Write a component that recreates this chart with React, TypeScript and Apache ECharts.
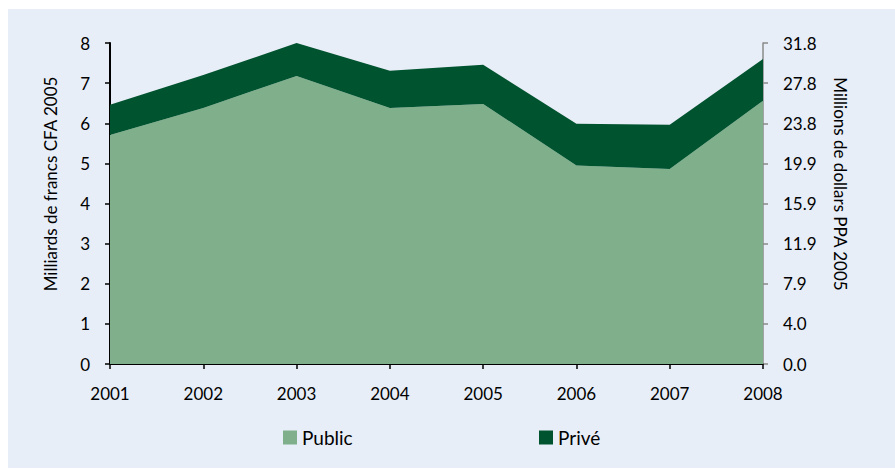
import React, { useEffect, useRef } from "react";
import * as echarts from "echarts";

const years = ["2001", "2002", "2003", "2004", "2005", "2006", "2007", "2008"];
const publicValues = [5.71, 6.38, 7.18, 6.38, 6.48, 4.95, 4.86, 6.56];
const priveValues = [0.75, 0.82, 0.82, 0.93, 0.98, 1.04, 1.1, 1.04];
const rightTickLabels = ["0.0", "4.0", "7.9", "11.9", "15.9", "19.9", "23.8", "27.8", "31.8"];
const leftAxisName = "Milliards de francs CFA 2005";
const rightAxisName = "Millions de dollars PPA 2005";

const FONT = "Lato";
const TEXT = "#000000";

export default function App() {
  const ref = useRef<HTMLDivElement>(null);

  useEffect(() => {
    document.body.style.margin = "0";
    document.documentElement.style.overflow = "hidden";
    const chart = echarts.init(ref.current!, null, { renderer: "svg" });
    chart.setOption({
      animation: false,
      backgroundColor: "#e8eef7",
      textStyle: { fontFamily: FONT, color: TEXT },
      grid: { left: 102, right: 132, top: 34, bottom: 104, containLabel: false },
      legend: [
        {
          data: ["Public"],
          left: 270,
          top: 414,
          icon: "rect",
          itemWidth: 14,
          itemHeight: 14,
          itemGap: 5,
          textStyle: { fontFamily: FONT, fontSize: 19, color: TEXT },
        },
        {
          data: ["Privé"],
          left: 526,
          top: 414,
          icon: "rect",
          itemWidth: 14,
          itemHeight: 14,
          itemGap: 5,
          textStyle: { fontFamily: FONT, fontSize: 19, color: TEXT },
        },
      ],
      xAxis: {
        type: "category",
        data: years,
        boundaryGap: false,
        axisLine: { show: true, lineStyle: { color: "#000", width: 2 } },
        axisTick: { show: true, length: 5, lineStyle: { color: "#000", width: 1.5 } },
        axisLabel: { fontFamily: FONT, fontSize: 17, color: TEXT, margin: 21 },
        splitLine: { show: false },
      },
      yAxis: [
        {
          type: "value",
          min: 0,
          max: 8,
          interval: 1,
          position: "left",
          axisLine: { show: true, lineStyle: { color: "#000", width: 2 } },
          axisTick: { show: true, length: 5, lineStyle: { color: "#000", width: 1.5 } },
          axisLabel: { fontFamily: FONT, fontSize: 17, color: TEXT, margin: 20 },
          splitLine: { show: false },
        },
        {
          type: "value",
          min: 0,
          max: 8,
          interval: 1,
          position: "right",
          axisLine: { show: true, lineStyle: { color: "#8a8a8a", width: 1.5 } },
          axisTick: { show: true, length: 5, lineStyle: { color: "#8a8a8a", width: 1.5 } },
          axisLabel: {
            fontFamily: FONT,
            fontSize: 17,
            color: TEXT,
            margin: 20,
            formatter: (v: number) => rightTickLabels[Math.round(v)] ?? "",
          },
          splitLine: { show: false },
        },
      ],
      graphic: [
        {
          type: "text",
          x: 42,
          y: 175,
          rotation: Math.PI / 2,
          style: {
            text: leftAxisName,
            fontFamily: FONT,
            fontSize: 17,
            fill: TEXT,
            textAlign: "center",
            textVerticalAlign: "middle",
          },
        },
        {
          type: "text",
          x: 832,
          y: 175,
          rotation: -Math.PI / 2,
          style: {
            text: rightAxisName,
            fontFamily: FONT,
            fontSize: 17,
            fill: TEXT,
            textAlign: "center",
            textVerticalAlign: "middle",
          },
        },
      ],
      series: [
        {
          name: "Public",
          type: "line",
          stack: "total",
          data: publicValues,
          symbol: "none",
          lineStyle: { width: 0 },
          itemStyle: { color: "#7fb08b" },
          areaStyle: { color: "#7fb08b", opacity: 1 },
          z: 2,
        },
        {
          name: "Privé",
          type: "line",
          stack: "total",
          data: priveValues,
          symbol: "none",
          lineStyle: { width: 0 },
          itemStyle: { color: "#00532f" },
          areaStyle: { color: "#00532f", opacity: 1 },
          z: 2,
        },
      ],
    });
    return () => chart.dispose();
  }, []);

  return (
    <div style={{ paddingLeft: 8, paddingTop: 9 }}>
      <div ref={ref} style={{ width: 887, height: 459 }} />
    </div>
  );
}
